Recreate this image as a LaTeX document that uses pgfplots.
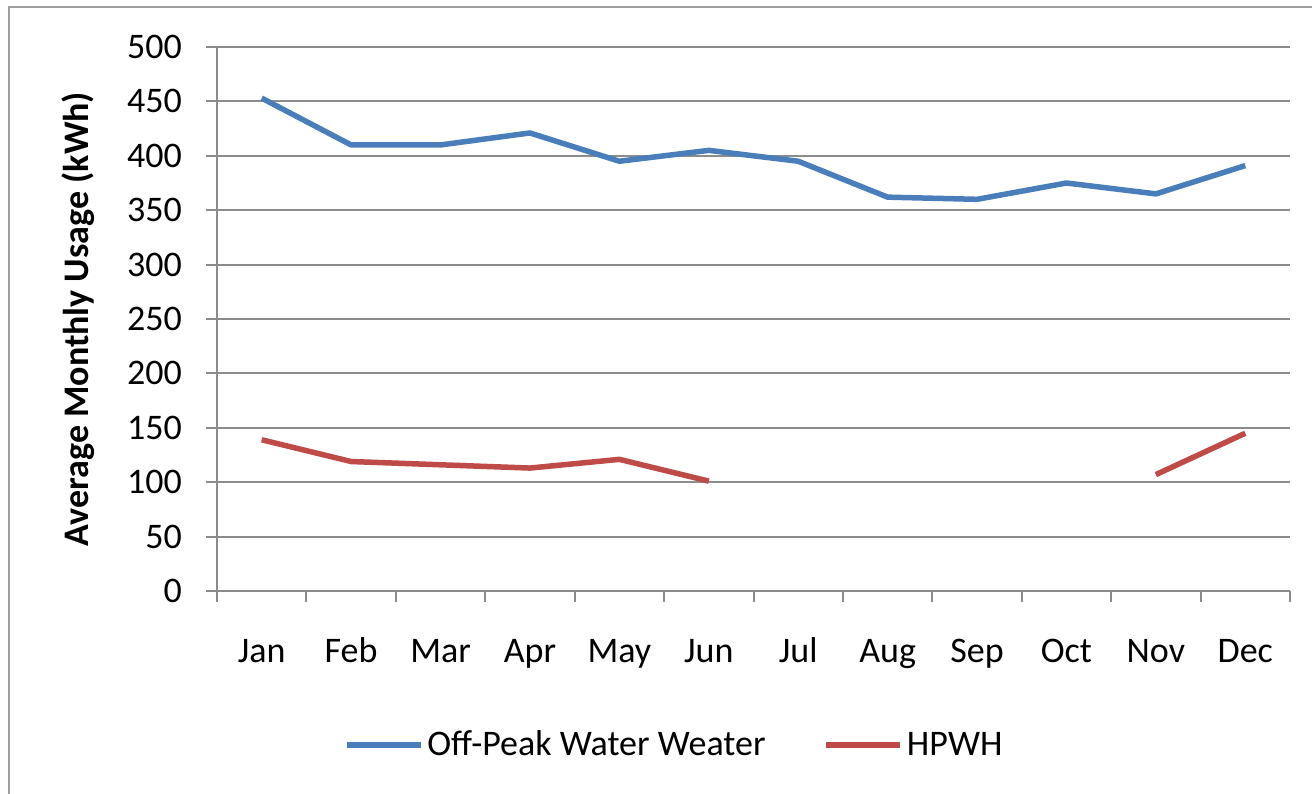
\documentclass[border=0pt]{standalone}
\usepackage{pgfplots}
\pgfplotsset{compat=1.18}
\usepackage{fontspec}
\setmainfont{Carlito}
\definecolor{blueline}{HTML}{4A7EBB}
\definecolor{redline}{HTML}{BE4B48}
\definecolor{gridgray}{HTML}{8C8C8C}
\definecolor{framegray}{HTML}{A0A0A0}
\pgfplotstableread{
m off hp
1 453 139
2 410 119
3 410 116
4 421 113
5 395 121
6 405 101
7 395 nan
8 362 nan
9 360 nan
10 375 nan
11 365 107
12 391 145
}\datatable
\begin{document}
\begin{tikzpicture}[x=1pt,y=1pt]
\useasboundingbox (0,0) rectangle (656,396.5);
\draw[color=framegray, line width=0.8pt] (4.5,-2) -- (4.5,393) -- (660,393);
\begin{axis}[
  at={(108.5pt,101pt)}, anchor=south west,
  scale only axis, width=536.5pt, height=272pt,
  xmin=0.5, xmax=12.5, ymin=0, ymax=500,
  axis x line=bottom, axis y line=left,
  axis line style={draw=gridgray, line width=1pt, -},
  ytick={0,50,...,500},
  xtick={0.5,1.5,...,12.5}, xticklabels={},
  extra x ticks={1,2,...,12},
  extra x tick labels={Jan,Feb,Mar,Apr,May,Jun,Jul,Aug,Sep,Oct,Nov,Dec},
  extra x tick style={major tick length=0pt, xticklabel style={anchor=base, yshift=-35.5pt}},
  tick align=outside, major tick length=5.5pt,
  tick style={draw=gridgray, line width=1pt},
  ymajorgrids, grid style={draw=gridgray, line width=1pt},
  /pgf/number format/assume math mode=true,
  ticklabel style={font=\fontsize{18}{20}\selectfont, text=black},
  yticklabel style={xshift=-8.5pt},
  ylabel={Average Monthly Usage (kWh)},
  ylabel style={at={(axis description cs:-0.1295,0.5)}, anchor=center, font=\bfseries\fontsize{18}{20}\selectfont},
  unbounded coords=jump,
  legend columns=2,
  legend style={draw=none, fill=none, at={(0.427,-0.283)}, anchor=center,
    font=\fontsize{18}{20}\selectfont,
    /tikz/every even column/.append style={column sep=27pt}},
  legend image code/.code={\draw[#1] (0pt,0pt) -- (37pt,0pt);},
  clip=false,
]
\addplot[color=blueline, line width=2.75pt, line join=round] table[x=m, y=off] {\datatable};
\addlegendentry{Off-Peak Water Weater}
\addplot[color=redline, line width=2.75pt, line join=round] table[x=m, y=hp] {\datatable};
\addlegendentry{HPWH}
\end{axis}
\end{tikzpicture}
\end{document}
